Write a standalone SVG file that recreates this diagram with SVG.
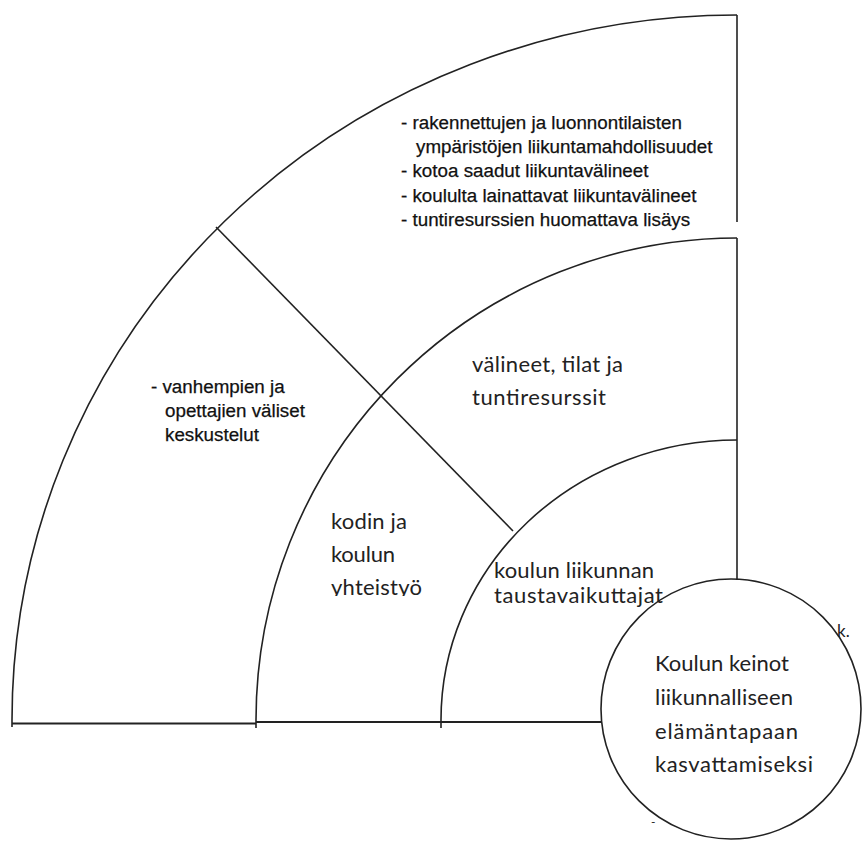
<svg xmlns="http://www.w3.org/2000/svg" width="862" height="841" viewBox="0 0 862 841">
  <style>
    .ln { fill: none; stroke: #222; stroke-width: 1.6; }
    .ar { font-family: "Liberation Sans", Arial, sans-serif; font-size: 18.8px; fill: #111; stroke: #111; stroke-width: 0.25; }
    .cb { font-family: Lato, "Open Sans", sans-serif; font-size: 22px; fill: #222; }
  </style>
  <defs>
    <clipPath id="clipKodin">
      <rect x="320" y="500" width="120" height="96"/>
    </clipPath>
  </defs>
  <rect width="862" height="841" fill="#fff"/>

  <g id="connectors">
    <path class="ln" d="M737,15 A725,705 0 0 0 12,720 L12,727"/>
    <path class="ln" d="M737,238 A481,482 0 0 0 256,720 L256,728"/>
    <path class="ln" d="M737,440 A296,280 0 0 0 441,720 L441,728"/>
    <line class="ln" x1="737" y1="15" x2="737" y2="222"/>
    <line class="ln" x1="737" y1="238" x2="737" y2="580"/>
    <line class="ln" x1="12" y1="723.5" x2="256" y2="723.5" style="stroke-width:2"/>
    <line class="ln" x1="256" y1="722" x2="601" y2="722" style="stroke-width:2"/>
    <line class="ln" x1="216" y1="227" x2="513" y2="531"/>
  </g>

  <g id="outer-resources">
    <text class="ar" x="401" y="129">- rakennettujen ja luonnontilaisten</text>
    <text class="ar" x="416" y="153">ympäristöjen liikuntamahdollisuudet</text>
    <text class="ar" x="401" y="177">- kotoa saadut liikuntavälineet</text>
    <text class="ar" x="401" y="202">- koululta lainattavat liikuntavälineet</text>
    <text class="ar" x="401" y="226">- tuntiresurssien huomattava lisäys</text>
  </g>

  <g id="outer-discussions">
    <text class="ar" x="151" y="393">- vanhempien ja</text>
    <text class="ar" x="165" y="417">opettajien väliset</text>
    <text class="ar" x="165" y="441">keskustelut</text>
  </g>

  <g id="middle-resources">
    <text class="cb" x="472" y="372" textLength="151">välineet, tilat ja</text>
    <text class="cb" x="472" y="405" textLength="134">tuntiresurssit</text>
  </g>

  <g id="middle-cooperation" clip-path="url(#clipKodin)">
    <text class="cb" x="331" y="529" textLength="76">kodin ja</text>
    <text class="cb" x="331" y="562" textLength="64">koulun</text>
    <text class="cb" x="331" y="595" textLength="91">yhteistyö</text>
  </g>

  <g id="inner-background">
    <text class="cb" x="494" y="578" textLength="160">koulun liikunnan</text>
    <text class="cb" x="494" y="603" textLength="169">taustavaikuttajat</text>
  </g>

  <g id="center-circle">
    <circle class="ln" cx="731" cy="709" r="130"/>
    <text class="cb" x="655" y="671" textLength="134">Koulun keinot</text>
    <text class="cb" x="655" y="705" textLength="138">liikunnalliseen</text>
    <text class="cb" x="655" y="739" textLength="143">elämäntapaan</text>
    <text class="cb" x="655" y="772" textLength="158">kasvattamiseksi</text>
    <text class="cb" x="837" y="637" style="font-size:17px">k.</text>
    <text class="cb" x="651" y="826" style="font-size:12px">-</text>
  </g>
</svg>
